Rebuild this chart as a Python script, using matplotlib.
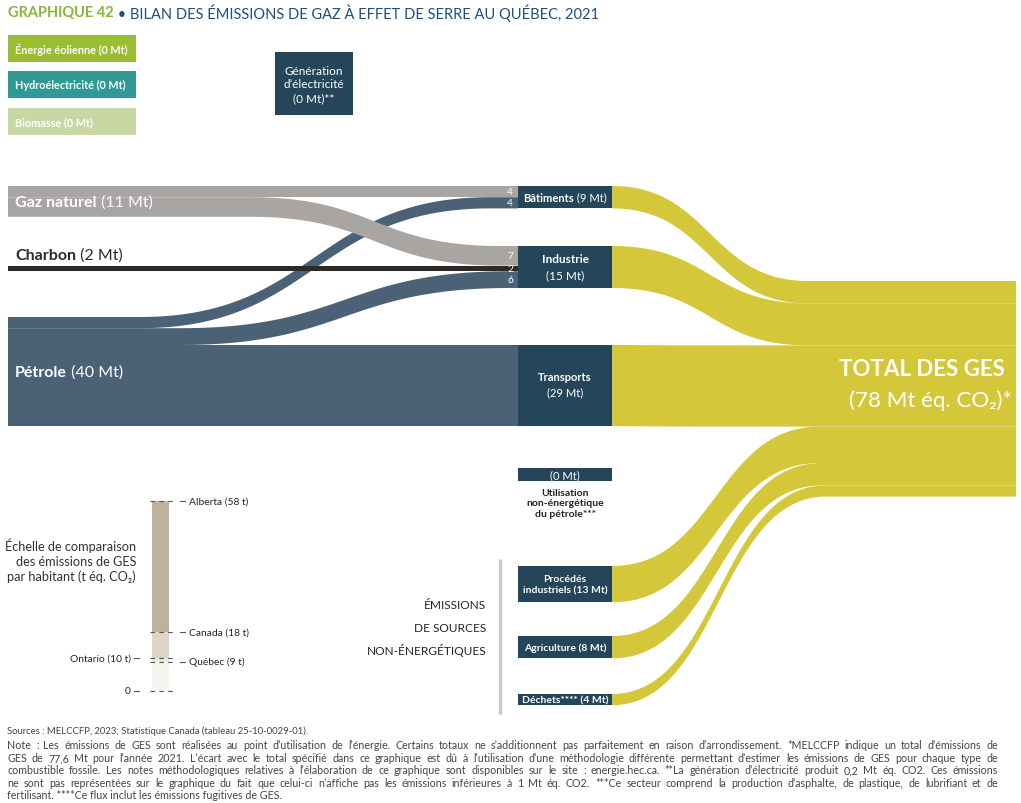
import numpy as np
import matplotlib
import matplotlib.pyplot as plt
from matplotlib.patches import Rectangle

matplotlib.rcParams['font.family'] = ['Lato', 'DejaVu Sans']

# ── données (Mt éq. CO2) ───────────────────────────────────────
gaz_vers     = [4, 7]        # Bâtiments, Industrie
charbon_vers = [2]           # Industrie
petrole_vers = [4, 6, 29]    # Bâtiments, Industrie, Transports
secteurs     = ['Bâtiments', 'Industrie', 'Transports']
non_energie  = ['Procédés industriels', 'Agriculture', 'Déchets']
non_energie_mt = [13, 8, 4]
total_mt     = 78

echelle_noms = ['Alberta (58 t)', 'Canada (18 t)', 'Ontario (10 t)', 'Québec (9 t)']
echelle_val  = [58, 18, 10, 9]

# ── couleurs ───────────────────────────────────────────────────
C_NODE  = '#25465A'
C_PETR  = '#4A6176'
C_GAZ   = '#A9A5A3'
C_CHAR  = '#2D2926'
C_JAUNE = '#D4C83A'
C_VERT  = '#8BB43A'
C_BLEU  = '#1D4F7C'

K = 2.8  # pixels par Mt

fig = plt.figure(figsize=(10.21, 8.04), dpi=100)
ax = fig.add_axes([0, 0, 1, 1])
ax.set_xlim(0, 1021)
ax.set_ylim(804, 0)
ax.axis('off')
renderer = fig.canvas.get_renderer()


def bez(x0, y0, x1, y1, n=80):
    t = np.linspace(0, 1, n)
    xm = (x0 + x1) / 2
    x = (1-t)**3*x0 + 3*(1-t)**2*t*xm + 3*(1-t)*t**2*xm + t**3*x1
    y = (1-t)**3*y0 + 3*(1-t)**2*t*y0 + 3*(1-t)*t**2*y1 + t**3*y1
    return x, y


def band(xs, xa, xb, xe, ya, yb, val, color, z=1):
    w = val * K
    cx, cy = bez(xa, ya, xb, yb)
    tx = np.concatenate([[xs], cx, [xe]])
    ty = np.concatenate([[ya], cy, [yb]])
    px = np.concatenate([tx, tx[::-1]])
    py = np.concatenate([ty, (ty + w)[::-1]])
    ax.fill(px, py, color=color, lw=0, zorder=z)


def txt_parts(x, y, parts, ha='left', size=8, color='white'):
    # parts : liste de (texte, gras) ou (texte, gras, couleur)
    objs = []
    for p in parts:
        c = p[2] if len(p) > 2 else color
        objs.append(ax.text(0, y, p[0], fontsize=size, color=c, va='center',
                            fontweight='bold' if p[1] else 'normal', zorder=10))
    widths = [o.get_window_extent(renderer).width for o in objs]
    tot = sum(widths)
    x0 = x - tot / 2 if ha == 'center' else x
    for o, wd in zip(objs, widths):
        o.set_x(x0)
        x0 += wd


def justify(x, y, s, width, size, color):
    mots = s.split(' ')
    objs = [ax.text(0, y, m, fontsize=size, color=color, va='center') for m in mots]
    ws = [o.get_window_extent(renderer).width for o in objs]
    gap = max((width - sum(ws)) / (len(mots) - 1), 1.5)
    x0 = x
    for o, wd in zip(objs, ws):
        o.set_x(x0)
        x0 += wd + gap


# ── titre ──────────────────────────────────────────────────────
txt_parts(8, 13, [('GRAPHIQUE 42', True, C_VERT),
                  (' • BILAN DES ÉMISSIONS DE GAZ À EFFET DE SERRE AU QUÉBEC, 2021', False, C_BLEU)],
          size=10.5)

# ── boîtes sources 0 Mt ────────────────────────────────────────
boites = [('Énergie éolienne (0 Mt)', '#9BBD34', 36),
          ('Hydroélectricité (0 Mt)', '#2E9A93', 72),
          ('Biomasse (0 Mt)', '#C8D7A3', 109)]
for lab, col, y in boites:
    ax.add_patch(Rectangle((8, y), 128, 27, color=col, lw=0))
    ax.text(15, y + 13.5, lab, fontsize=7.8, fontweight='bold', color='white', va='center')

ax.add_patch(Rectangle((275, 53), 78, 63, color=C_NODE, lw=0))
ax.text(314, 85, 'Génération\nd’électricité\n(0 Mt)**', fontsize=8.5, color='white',
        ha='center', va='center', linespacing=1.3)

# ── flux énergétiques ──────────────────────────────────────────
Y_BAT, Y_IND, Y_TRA = 187, 247, 346
Y_GAZ, Y_PET = 187, 318

# pétrole
band(8, 140, 490, 518, Y_PET, Y_BAT + gaz_vers[0]*K, petrole_vers[0], C_PETR)
band(8, 180, 510, 518, Y_PET + petrole_vers[0]*K,
     Y_IND + (gaz_vers[1] + charbon_vers[0])*K, petrole_vers[1], C_PETR)
band(8, 300, 400, 518, Y_TRA, Y_TRA, petrole_vers[2], C_PETR)
# gaz naturel
band(8, 300, 400, 518, Y_GAZ, Y_BAT, gaz_vers[0], C_GAZ, z=2)
band(8, 250, 500, 518, Y_GAZ + gaz_vers[0]*K, Y_IND, gaz_vers[1], C_GAZ, z=2)
# charbon
band(8, 300, 400, 518, Y_IND + gaz_vers[1]*K, Y_IND + gaz_vers[1]*K, charbon_vers[0], C_CHAR, z=3)

txt_parts(15, 203, [('Gaz naturel', True), (' (11 Mt)', False)], size=11.5)
txt_parts(15, 256, [('Charbon', True), (' (2 Mt)', False)], size=11.5, color=C_CHAR)
txt_parts(15, 373, [('Pétrole', True), (' (40 Mt)', False)], size=11.5)

# valeurs d'entrée
vals_bat = [gaz_vers[0], petrole_vers[0]]
vals_ind = [gaz_vers[1], charbon_vers[0], petrole_vers[1]]
for top, vals in [(Y_BAT, vals_bat), (Y_IND, vals_ind)]:
    y = top
    for v in vals:
        ax.text(513, y + v*K/2, str(v), fontsize=7.5, color='white',
                ha='right', va='center', zorder=10)
        y += v*K

# ── noeuds secteurs ────────────────────────────────────────────
h_bat = sum(vals_bat) * K
h_ind = sum(vals_ind) * K
h_tra = petrole_vers[2] * K
for top, h in [(Y_BAT, h_bat), (Y_IND, h_ind), (Y_TRA, h_tra)]:
    ax.add_patch(Rectangle((518, top), 94, h, color=C_NODE, lw=0, zorder=4))

txt_parts(565, Y_BAT + h_bat/2, [('Bâtiments', True), (' (9 Mt)', False)], ha='center', size=8)
txt_parts(565, 260, [('Industrie', True)], ha='center', size=8.5)
txt_parts(565, 276, [('(15 Mt)', False)], ha='center', size=8.5)
txt_parts(565, 378, [('Transports', True)], ha='center', size=8)
txt_parts(565, 393, [('(29 Mt)', False)], ha='center', size=8)

# non énergétique du pétrole
ax.add_patch(Rectangle((518, 469), 94, 13, color=C_NODE, lw=0))
ax.text(565, 475.5, '(0 Mt)', fontsize=8, color='white', ha='center', va='center')
ax.text(565, 504, 'Utilisation\nnon-énergétique\ndu pétrole***', fontsize=7.5,
        fontweight='bold', color='#222222', ha='center', va='center', linespacing=1.2)

# sources non énergétiques
Y_NE = [567, 637, 695]
lab_ne = ['Procédés\nindustriels (13 Mt)', 'Agriculture (8 Mt)', 'Déchets**** (4 Mt)']
for top, v, lab in zip(Y_NE, non_energie_mt, lab_ne):
    ax.add_patch(Rectangle((518, top), 94, v*K, color=C_NODE, lw=0, zorder=4))
    ax.text(565, top + v*K/2, lab, fontsize=7.5, fontweight='bold', color='white',
            ha='center', va='center', linespacing=1.25, zorder=10)

ax.plot([500, 500], [560, 715], color='#C8C8C8', lw=2.5, solid_capstyle='butt')
for y, s in zip([606, 629, 651], ['ÉMISSIONS', 'DE SOURCES', 'NON-ÉNERGÉTIQUES']):
    ax.text(486, y, s, fontsize=8.6, color='#222222', ha='right', va='center')

# ── flux vers le total ─────────────────────────────────────────
Y_TOT = 282
hauteurs = [sum(vals_bat), sum(vals_ind), petrole_vers[2]] + non_energie_mt
departs  = [Y_BAT, Y_IND, Y_TRA] + Y_NE
fins     = [808, 808, 700, 820, 822, 826]
y = Y_TOT
for v, d, xe in zip(hauteurs, departs, fins):
    band(612, 612, xe, 1016, d, y, v, C_JAUNE)
    y += v*K

ax.text(1005, 370, 'TOTAL DES GES', fontsize=16, fontweight='bold', color='white',
        ha='right', va='center', zorder=10)
ax.text(1012, 401, '(78 Mt éq. CO₂)*', fontsize=16, color='white',
        ha='right', va='center', zorder=10)

# ── échelle par habitant ───────────────────────────────────────
Y0, S = 692, (692 - 502) / 58
bornes = [0, 9, 10, 18, 58]
cols_e = ['#F6F4F0', '#ECE6DA', '#DDD4C6', '#BEB29B']
for a, b, c in zip(bornes[:-1], bornes[1:], cols_e):
    ax.add_patch(Rectangle((152, Y0 - b*S), 17, (b - a)*S, color=c, lw=0))

for nom, v in zip(echelle_noms + ['0'], echelle_val + [0]):
    yy = Y0 - v*S
    ax.plot([150, 173], [yy, yy], color='#555555', lw=0.8, ls=(0, (4, 4)))
    if nom.startswith('Ontario') or nom == '0':
        ax.plot([134, 139], [yy, yy], color='#555555', lw=0.8)
        ax.text(131, yy, nom, fontsize=7.4, color='#222222', ha='right', va='center')
    else:
        ax.plot([180, 185], [yy, yy], color='#555555', lw=0.8)
        ax.text(189, yy, nom, fontsize=7.4, color='#222222', ha='left', va='center')

ax.text(136, 561, 'Échelle de comparaison\ndes émissions de GES\npar habitant (t éq. CO₂)',
        fontsize=9.2, color='#333333', ha='right', va='center', linespacing=1.25)

# ── notes ──────────────────────────────────────────────────────
notes = [
    'Note : Les émissions de GES sont réalisées au point d’utilisation de l’énergie. Certains totaux ne s’additionnent pas parfaitement en raison d’arrondissement. *MELCCFP indique un total d’émissions de',
    'GES de 77,6 Mt pour l’année 2021. L’écart avec le total spécifié dans ce graphique est dû à l’utilisation d’une méthodologie différente permettant d’estimer les émissions de GES pour chaque type de',
    'combustible fossile. Les notes méthodologiques relatives à l’élaboration de ce graphique sont disponibles sur le site : energie.hec.ca. **La génération d’électricité produit 0,2 Mt éq. CO2. Ces émissions',
    'ne sont pas représentées sur le graphique du fait que celui-ci n’affiche pas les émissions inférieures à 1 Mt éq. CO2. ***Ce secteur comprend la production d’asphalte, de plastique, de lubrifiant et de',
    'fertilisant. ****Ce flux inclut les émissions fugitives de GES.',
]
ax.text(7, 731, 'Sources : MELCCFP, 2023; Statistique Canada (tableau 25-10-0029-01).',
        fontsize=6.8, color='#444444', ha='left', va='center')
for i, (y, s) in enumerate(zip([746, 759, 771, 784, 796], notes)):
    if i < len(notes) - 1:
        justify(7, y, s, 991, 7.7, '#444444')
    else:
        ax.text(7, y, s, fontsize=7.7, color='#444444', ha='left', va='center')

fig.savefig('out.png', dpi=100)
